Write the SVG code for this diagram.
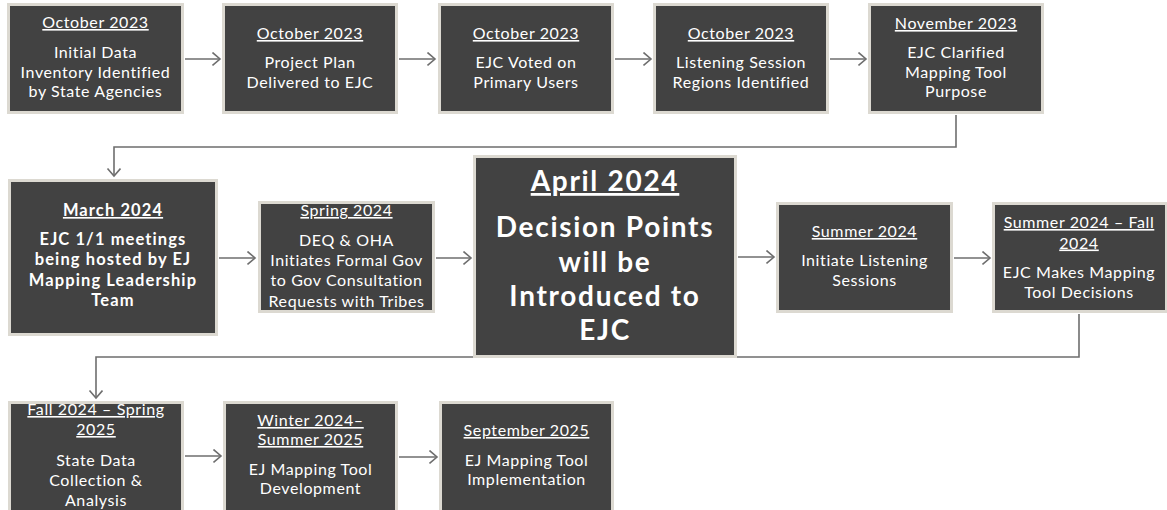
<svg xmlns="http://www.w3.org/2000/svg" width="1167" height="510" viewBox="0 0 1167 510">
<style>
.box{fill:#424242;stroke:#dcd9d1;stroke-width:3}
.t{font-family:"Lato","Open Sans",sans-serif;font-size:16px;letter-spacing:0.6px;fill:#ffffff;text-anchor:middle}
.u{text-decoration:underline}
.b{font-weight:bold;font-size:16.5px;letter-spacing:1.1px}
.big{font-weight:bold;font-size:28px;letter-spacing:1.7px}
.c{fill:none;stroke:#6e6e6e;stroke-width:1.6}
</style>
<defs>
<marker id="ah" markerUnits="userSpaceOnUse" markerWidth="12" markerHeight="16" refX="8" refY="7" orient="auto">
<path d="M0.5,0.5 L8,7 L0.5,13.5" fill="none" stroke="#6e6e6e" stroke-width="1.6"/>
</marker>
</defs>
<rect width="1167" height="510" fill="#ffffff"/>
<g id="connectors">
<line class="c" x1="185" y1="59" x2="220" y2="59" marker-end="url(#ah)"/>
<line class="c" x1="399" y1="59" x2="435" y2="59" marker-end="url(#ah)"/>
<line class="c" x1="615" y1="59" x2="651" y2="59" marker-end="url(#ah)"/>
<line class="c" x1="830" y1="59" x2="866" y2="59" marker-end="url(#ah)"/>
<path class="c" d="M956,115 V147 H114 V176" marker-end="url(#ah)"/>
<line class="c" x1="219" y1="258" x2="255" y2="258" marker-end="url(#ah)"/>
<line class="c" x1="436" y1="258" x2="471" y2="258" marker-end="url(#ah)"/>
<line class="c" x1="738" y1="257" x2="774" y2="257" marker-end="url(#ah)"/>
<line class="c" x1="954" y1="258" x2="990" y2="258" marker-end="url(#ah)"/>
<path class="c" d="M1079,314 V357 H96 V398" marker-end="url(#ah)"/>
<line class="c" x1="185" y1="456" x2="221" y2="456" marker-end="url(#ah)"/>
<line class="c" x1="399" y1="457" x2="437" y2="457" marker-end="url(#ah)"/>
</g>
<g id="n1">
<rect class="box" x="8.5" y="4.5" width="174" height="108"/>
<text class="t u" x="95.5" y="28">October 2023</text>
<text class="t" x="95.5" y="58">Initial Data</text>
<text class="t" x="95.5" y="77.5">Inventory Identified</text>
<text class="t" x="95.5" y="97">by State Agencies</text>
</g>
<g id="n2">
<rect class="box" x="223.5" y="4.5" width="173" height="108"/>
<text class="t u" x="310" y="39">October 2023</text>
<text class="t" x="310" y="68">Project Plan</text>
<text class="t" x="310" y="88">Delivered to EJC</text>
</g>
<g id="n3">
<rect class="box" x="439.5" y="4.5" width="173" height="108"/>
<text class="t u" x="526" y="39">October 2023</text>
<text class="t" x="526" y="68">EJC Voted on</text>
<text class="t" x="526" y="88">Primary Users</text>
</g>
<g id="n4">
<rect class="box" x="654.5" y="4.5" width="173" height="108"/>
<text class="t u" x="741" y="39">October 2023</text>
<text class="t" x="741" y="68">Listening Session</text>
<text class="t" x="741" y="88">Regions Identified</text>
</g>
<g id="n5">
<rect class="box" x="869.5" y="4.5" width="173" height="108"/>
<text class="t u" x="956" y="29">November 2023</text>
<text class="t" x="956" y="57.5">EJC Clarified</text>
<text class="t" x="956" y="77.5">Mapping Tool</text>
<text class="t" x="956" y="97">Purpose</text>
</g>
<g id="n6">
<rect class="box" x="9.5" y="180.5" width="207" height="154"/>
<text class="t b u" x="113" y="216">March 2024</text>
<text class="t b" x="113" y="245">EJC 1/1 meetings</text>
<text class="t b" x="113" y="265">being hosted by EJ</text>
<text class="t b" x="113" y="285.5">Mapping Leadership</text>
<text class="t b" x="113" y="305.5">Team</text>
</g>
<g id="n7">
<rect class="box" x="259.5" y="202.5" width="174" height="109"/>
<text class="t u" x="346.5" y="216">Spring 2024</text>
<text class="t" x="346.5" y="246">DEQ &amp; OHA</text>
<text class="t" x="346.5" y="266">Initiates Formal Gov</text>
<text class="t" x="346.5" y="286">to Gov Consultation</text>
<text class="t" x="346.5" y="306.5">Requests with Tribes</text>
</g>
<g id="n8">
<rect class="box" x="474.5" y="156.5" width="261" height="200"/>
<text class="t big u" x="605" y="191">April 2024</text>
<text class="t big" x="605" y="237">Decision Points</text>
<text class="t big" x="605" y="272">will be</text>
<text class="t big" x="605" y="306">Introduced to</text>
<text class="t big" x="605" y="340">EJC</text>
</g>
<g id="n9">
<rect class="box" x="777.5" y="203.5" width="174" height="108"/>
<text class="t u" x="864.5" y="237">Summer 2024</text>
<text class="t" x="864.5" y="266">Initiate Listening</text>
<text class="t" x="864.5" y="286">Sessions</text>
</g>
<g id="n10">
<rect class="box" x="993.5" y="203.5" width="173" height="108"/>
<text class="t u" x="1079" y="228">Summer 2024 – Fall</text>
<text class="t u" x="1079" y="248.5">2024</text>
<text class="t" x="1079" y="278">EJC Makes Mapping</text>
<text class="t" x="1079" y="298">Tool Decisions</text>
</g>
<g id="n11">
<rect class="box" x="9.5" y="402.5" width="173" height="112"/>
<text class="t u" x="96" y="415">Fall 2024 – Spring</text>
<text class="t u" x="96" y="435">2025</text>
<text class="t" x="96" y="466">State Data</text>
<text class="t" x="96" y="486">Collection &amp;</text>
<text class="t" x="96" y="506">Analysis</text>
</g>
<g id="n12">
<rect class="box" x="224.5" y="402.5" width="172" height="112"/>
<text class="t u" x="310.5" y="426">Winter 2024–</text>
<text class="t u" x="310.5" y="445">Summer 2025</text>
<text class="t" x="310.5" y="475">EJ Mapping Tool</text>
<text class="t" x="310.5" y="494">Development</text>
</g>
<g id="n13">
<rect class="box" x="440.5" y="402.5" width="172" height="112"/>
<text class="t u" x="526.5" y="436">September 2025</text>
<text class="t" x="526.5" y="466">EJ Mapping Tool</text>
<text class="t" x="526.5" y="485">Implementation</text>
</g>
</svg>
